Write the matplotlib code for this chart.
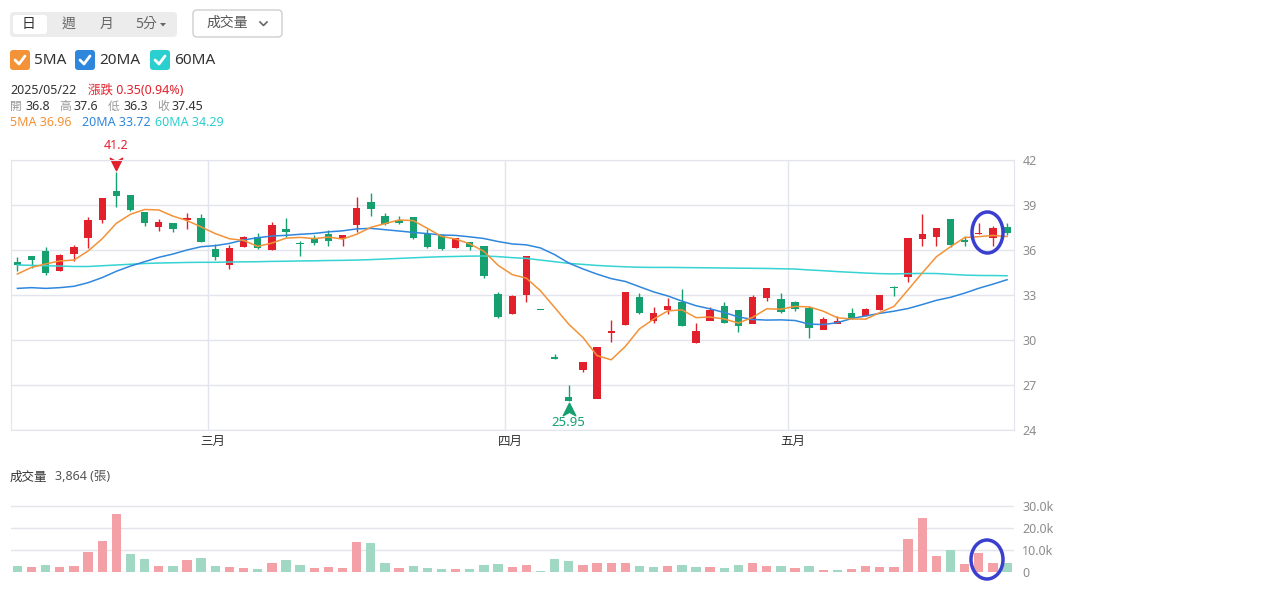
import numpy as np
import pandas as pd
import matplotlib
matplotlib.use("Agg")
import matplotlib.pyplot as plt
from matplotlib.patches import FancyBboxPatch, Ellipse, Polygon
from matplotlib.lines import Line2D
from matplotlib.path import Path
from matplotlib.transforms import IdentityTransform, blended_transform_factory, offset_copy

W, H = 1274, 595
plt.rcParams['font.family'] = ['Noto Sans', 'Noto Sans CJK TC', 'DejaVu Sans']

# daily OHLC (Feb .. 2025/05/23)
opens = [35.2, 35.6, 35.95, 34.6, 35.75, 36.8, 38.0, 39.95, 39.65, 38.55,
         37.55, 37.8, 38.0, 38.15, 36.05, 35.0, 36.2, 36.85, 36.0, 37.4,
         36.5, 36.8, 37.05, 36.75, 37.65, 39.2, 38.25, 38.0, 38.2, 37.05,
         37.0, 36.15, 36.55, 36.3, 33.05, 31.75, 33.0, 32.0, 28.85, 26.2,
         28.0, 26.1, 30.5, 31.0, 32.9, 31.25, 32.0, 32.55, 29.8, 31.3,
         32.25, 32.0, 31.1, 32.8, 32.75, 32.55, 32.15, 30.7, 31.1, 31.8,
         31.6, 32.0, 33.55, 34.2, 36.7, 36.9, 38.05, 36.65, 37.05, 36.8, 37.5]
highs = [35.5, 35.6, 36.2, 35.7, 36.35, 38.2, 39.45, 41.2, 39.65, 38.55,
         38.05, 37.8, 38.45, 38.4, 36.4, 36.35, 36.95, 37.1, 37.85, 38.1,
         36.6, 37.0, 37.35, 37.0, 39.5, 39.8, 38.45, 38.3, 38.2, 37.4,
         37.0, 36.8, 36.55, 36.3, 33.2, 33.0, 35.6, 32.0, 29.05, 27.0,
         28.55, 29.55, 31.3, 33.2, 33.1, 32.2, 32.8, 33.4, 31.15, 32.2,
         32.55, 32.0, 33.0, 33.45, 33.1, 32.6, 32.3, 31.55, 31.6, 32.1,
         32.15, 33.0, 33.6, 36.8, 38.4, 37.45, 38.05, 36.95, 37.8, 37.6, 37.8]
lows = [34.6, 34.8, 34.35, 34.6, 35.3, 36.15, 37.8, 38.9, 38.6, 37.6,
        37.3, 37.2, 37.4, 36.5, 35.35, 34.7, 36.2, 36.05, 36.0, 36.85,
        35.6, 36.35, 36.3, 36.3, 37.2, 38.3, 37.65, 37.75, 36.75, 36.15,
        36.0, 36.1, 36.0, 34.1, 31.45, 31.75, 32.5, 32.0, 28.75, 25.95,
        27.85, 26.1, 29.85, 31.0, 31.75, 31.1, 31.7, 30.95, 29.8, 31.3,
        31.15, 30.55, 31.1, 32.6, 31.8, 31.95, 30.15, 30.7, 31.1, 31.4,
        31.6, 32.0, 32.9, 33.85, 36.3, 36.3, 36.2, 36.3, 37.05, 36.3, 37.0]
closes = [35.0, 35.35, 34.45, 35.65, 36.2, 38.0, 39.45, 39.6, 38.65, 37.8,
          37.85, 37.4, 38.1, 36.55, 35.55, 36.15, 36.85, 36.1, 37.65, 37.2,
          36.4, 36.45, 36.6, 37.0, 38.8, 38.7, 37.7, 37.8, 36.8, 36.2,
          36.05, 36.8, 36.2, 34.3, 31.55, 32.95, 35.6, 32.0, 28.75, 25.95,
          28.55, 29.55, 30.6, 33.2, 31.8, 31.8, 32.3, 30.95, 30.6, 32.0,
          31.15, 30.95, 32.85, 33.45, 31.85, 32.1, 30.8, 31.4, 31.25, 31.45,
          32.05, 33.0, 33.45, 36.8, 37.05, 37.45, 36.35, 36.5, 37.1, 37.45, 37.1]
# volume in 張
volumes = [2900, 2200, 3200, 2500, 2900, 9000, 13900, 26300, 8000, 6000,
           2900, 2900, 5300, 6200, 2600, 2300, 1900, 1500, 4300, 5600,
           3400, 2000, 2200, 1700, 13600, 13100, 3900, 2000, 2900, 1700,
           1500, 1200, 1200, 3400, 3700, 2300, 3200, 400, 5700, 5100,
           3200, 3900, 4300, 4300, 2600, 2200, 2900, 3200, 2200, 2200,
           1900, 3200, 3900, 2600, 2900, 1900, 2800, 1100, 900, 1500,
           2600, 2300, 2500, 15000, 24400, 7100, 9900, 3700, 8800, 3864, 4200]

# moving-average values before the window fills
ma5_head = [34.40, 34.84, 35.07, 35.27]
ma20_head = [33.44, 33.49, 33.44, 33.49, 33.58, 33.82, 34.16, 34.58, 34.93, 35.22,
             35.51, 35.73, 36.00, 36.22, 36.29, 36.44, 36.67, 36.82, 36.93]
ma60_head = [35.00, 34.98, 34.95, 34.93, 34.90, 34.90, 34.95, 35.00, 35.05, 35.10,
             35.13, 35.15, 35.17, 35.18, 35.18, 35.20, 35.21, 35.22, 35.24, 35.25,
             35.27, 35.28, 35.30, 35.31, 35.33, 35.36, 35.40, 35.44, 35.48, 35.52,
             35.55, 35.57, 35.59, 35.60, 35.56, 35.49, 35.44, 35.33, 35.22, 35.11,
             35.04, 34.97, 34.92, 34.88, 34.85, 34.84, 34.84, 34.83, 34.82, 34.81,
             34.80, 34.79, 34.78, 34.77, 34.75, 34.73, 34.67, 34.62, 34.56]

month_labels = ['三月', '四月', '五月']
month_pos = [13.5, 34.5, 54.5]
price_ticks = [24, 27, 30, 33, 36, 39, 42]
vol_ticks = [0, 10000, 20000, 30000]
vol_tick_labels = ['0', '10.0k', '20.0k', '30.0k']

RED = '#e2202c'
GREEN = '#16a06f'
RED_V = '#f3a1a6'
GREEN_V = '#a0d8c4'
C5, C20, C60 = '#f39237', '#2f87dd', '#35d3d3'
GRID = '#e2e5ed'

s = pd.Series(closes)
ma5 = s.rolling(5).mean().to_numpy()
ma20 = s.rolling(20).mean().to_numpy()
ma60 = s.rolling(60).mean().to_numpy()
ma5[:4] = ma5_head
ma20[:19] = ma20_head
ma60[:59] = ma60_head

o = np.array(opens); c = np.array(closes)
hi = np.array(highs); lo = np.array(lows)
x = np.arange(len(c))

fig = plt.figure(figsize=(W / 100, H / 100), dpi=100)
ID = IdentityTransform()


def ftext(px, py, txt, **kw):
    kw.setdefault('va', 'center')
    fig.text(px, H - py, txt, transform=ID, **kw)


def rbox(x0, y0, x1, y1, fc, ec='none', r=4, lw=1):
    p = FancyBboxPatch((x0, H - y1), x1 - x0, y1 - y0,
                       boxstyle="round,pad=0,rounding_size=%g" % r,
                       transform=ID, fc=fc, ec=ec, lw=lw)
    fig.add_artist(p)


# top controls
rbox(10, 12, 177, 37, '#ececec')
rbox(13, 15, 47, 34, 'white', r=3)
ftext(29, 24.5, '日', fontsize=10, color='#333333', ha='center')
ftext(68, 24.5, '週', fontsize=10, color='#666666', ha='center')
ftext(107, 24.5, '月', fontsize=10, color='#666666', ha='center')
ftext(146, 24.5, '5分', fontsize=10, color='#666666', ha='center')
fig.add_artist(Polygon([(160, H - 23), (166, H - 23), (163, H - 26.5)],
                       closed=True, transform=ID, fc='#666666', ec='none'))
rbox(193, 10, 282, 37, 'white', ec='#cfcfcf')
ftext(227, 23.5, '成交量', fontsize=10, color='#555555', ha='center')
fig.add_artist(Line2D([260, 263.5, 267], [H - 22, H - 25.5, H - 22],
                      transform=ID, color='#666666', lw=1.2))

# MA checkboxes
for bx, col, lab in [(10, C5, '5MA'), (75, C20, '20MA'), (150, '#2ccfcf', '60MA')]:
    rbox(bx, 50, bx + 20, 70, col, r=3)
    fig.add_artist(Line2D([bx + 5, bx + 9, bx + 15], [H - 60, H - 64, H - 56],
                          transform=ID, color='white', lw=2, solid_capstyle='round'))
    ftext(bx + 24, 60, lab, fontsize=11, color='#333333')

# info lines
ftext(10, 90.5, '2025/05/22', fontsize=9, color='#333333')
ftext(88, 90.5, '漲跌 0.35(0.94%)', fontsize=9, color=RED)
for px_, t in [(10, '開'), (59, '高'), (108, '低'), (157, '收')]:
    ftext(px_, 106.5, t, fontsize=8.5, color='#999999')
for px_, t in [(25, '36.8'), (74, '37.6'), (123, '36.3'), (172, '37.45')]:
    ftext(px_, 106.5, t, fontsize=9, color='#333333')
ftext(10, 122.5, '5MA 36.96', fontsize=9, color=C5)
ftext(82, 122.5, '20MA 33.72', fontsize=9, color=C20)
ftext(155, 122.5, '60MA 34.29', fontsize=9, color='#2ccfcf')

# price panel
ax = fig.add_axes([11 / W, 1 - 430 / H, 1003 / W, 270 / H])
ax.set_xlim(-0.45, 70.49)
ax.set_ylim(24, 42)
ax.set_yticks(price_ticks)
ax.yaxis.tick_right()
ax.tick_params(axis='y', length=0, pad=6, labelsize=9, labelcolor='#8c8c8c')
ax.set_xticks(month_pos)
ax.set_xticklabels([])
ax.tick_params(axis='x', length=0)
ax.grid(True, color=GRID, lw=1)
ax.set_axisbelow(True)
for sp in ax.spines.values():
    sp.set_color(GRID)
trans = blended_transform_factory(ax.transData, ax.transAxes)
for pos, lab in zip(month_pos, month_labels):
    ax.text(pos + 0.35, -0.041, lab, transform=trans, ha='center', va='center',
            fontsize=9, color='#333333')

cols = np.where(c > o, RED, GREEN)
ax.vlines(x, lo, hi, colors=cols, lw=1, zorder=2)
ax.bar(x, np.maximum(np.abs(c - o), 0.07), bottom=np.minimum(o, c), width=0.52,
       color=cols, zorder=2)
ax.plot(x, ma60, color=C60, lw=1.1, zorder=3)
ax.plot(x, ma20, color=C20, lw=1.1, zorder=3)
ax.plot(x, ma5, color=C5, lw=1.1, zorder=3)

# high / low markers
up_arrow = Path([(0, 1), (1, -1), (0, -0.45), (-1, -1), (0, 1)],
                [Path.MOVETO, Path.LINETO, Path.LINETO, Path.LINETO, Path.CLOSEPOLY])
down_arrow = Path([(0, -1), (1, 1), (0, 0.45), (-1, 1), (0, -1)],
                  [Path.MOVETO, Path.LINETO, Path.LINETO, Path.LINETO, Path.CLOSEPOLY])
ih = int(np.argmax(hi)); il = int(np.argmin(lo))
ax.plot(ih, hi[ih], marker=down_arrow, ms=9, color=RED, mec=RED, ls='none',
        transform=offset_copy(ax.transData, fig, x=0, y=8, units='dots'), clip_on=False)
ax.text(ih, hi[ih], '%g' % hi[ih], color=RED, fontsize=9, ha='center', va='center',
        transform=offset_copy(ax.transData, fig, x=0, y=26, units='dots'))
ax.plot(il, lo[il], marker=up_arrow, ms=9, color=GREEN, mec=GREEN, ls='none',
        transform=offset_copy(ax.transData, fig, x=0, y=-8, units='dots'), clip_on=False)
ax.text(il, lo[il], '%g' % lo[il], color=GREEN, fontsize=9.5, ha='center', va='center',
        transform=offset_copy(ax.transData, fig, x=0, y=-22, units='dots'))

# volume panel
ftext(10, 477, '成交量', fontsize=9, color='#333333')
ftext(55, 477, '3,864 (張)', fontsize=9, color='#555555')
axv = fig.add_axes([11 / W, 1 - 572 / H, 1003 / W, 68.2 / H])
axv.set_xlim(-0.45, 70.49)
axv.set_ylim(0, 31000)
axv.set_yticks(vol_ticks)
axv.set_yticklabels(vol_tick_labels)
axv.yaxis.tick_right()
axv.tick_params(axis='y', length=0, pad=6, labelsize=9, labelcolor='#8c8c8c')
axv.set_xticks([])
axv.grid(True, axis='y', color=GRID, lw=1)
axv.set_axisbelow(True)
for sp in axv.spines.values():
    sp.set_visible(False)
prev = np.r_[np.inf, c[:-1]]
vcols = np.where(c > prev, RED_V, GREEN_V)
axv.bar(x, volumes, width=0.66, color=vcols, zorder=2)

# hand-drawn circles
for cx, cy, w, h in [(987.5, 232.5, 31, 41), (987, 559.5, 32, 39)]:
    fig.add_artist(Ellipse((cx, H - cy), w, h, transform=ID, fill=False,
                           ec='#3a3fcf', lw=2.5))

fig.savefig('out.png', dpi=100)
